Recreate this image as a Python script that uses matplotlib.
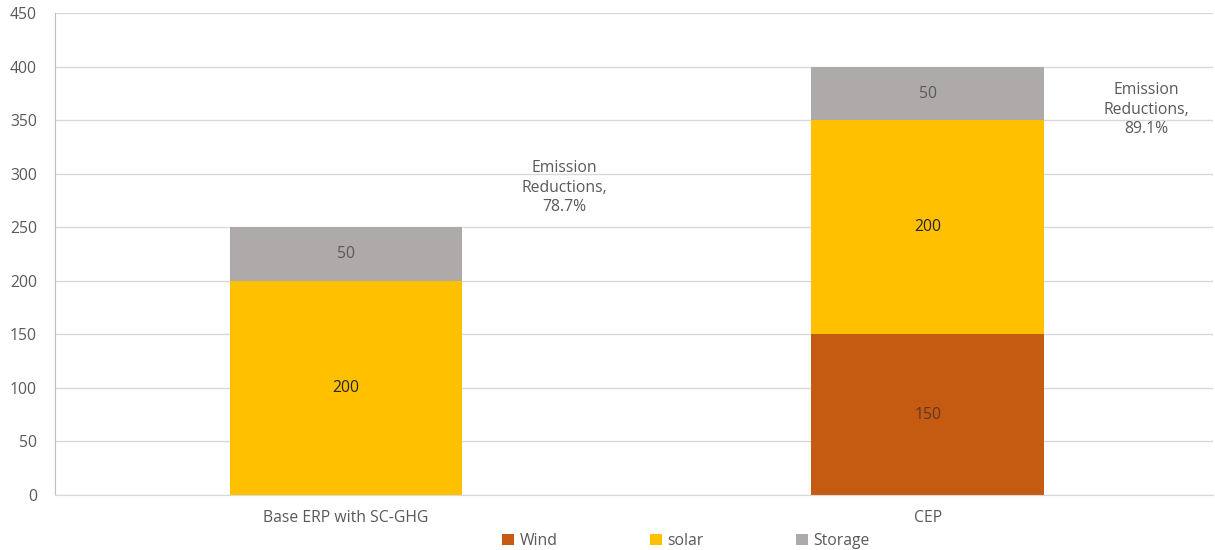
import matplotlib.pyplot as plt
import numpy as np

# ========== 数据 ==========
categories = ["Base ERP with SC-GHG", "CEP"]
wind = [0, 150]
solar = [200, 200]
storage = [50, 50]
reductions = [78.7, 89.1]

plt.rcParams["font.family"] = ["Open Sans", "DejaVu Sans"]

TEXT_GRAY = "#595959"
FS = 11.3
COLORS = {"Wind": "#C55A11", "solar": "#FFC000", "Storage": "#AEAAAA"}

fig = plt.figure(figsize=(12.15, 5.5), dpi=100)
ax = fig.add_axes([0.0453, 0.1, 0.953, 0.876])

x = np.arange(len(categories))
w = 0.4
wind = np.array(wind)
solar = np.array(solar)
storage = np.array(storage)

b_wind = ax.bar(x, wind, w, color=COLORS["Wind"], label="Wind", zorder=2)
b_solar = ax.bar(x, solar, w, bottom=wind, color=COLORS["solar"], label="solar", zorder=2)
b_stor = ax.bar(x, storage, w, bottom=wind + solar, color=COLORS["Storage"], label="Storage", zorder=2)

# 数值标签（0 不显示）
for bars, vals, col in [(b_wind, wind, "#5a3a2a"), (b_solar, solar, "#262626"), (b_stor, storage, TEXT_GRAY)]:
    labels = [str(v) if v else "" for v in vals]
    ax.bar_label(bars, labels=labels, label_type="center", fontsize=FS, color=col)

# 减排比例注释
note_y = [287, 360]
for xi, r, yy in zip(x, reductions, note_y):
    ax.text(xi + 0.375, yy, f"Emission\nReductions,\n{r}%", ha="center", va="center",
            fontsize=FS, color=TEXT_GRAY, linespacing=1.3)

ax.set_xlim(-0.5, 1.49)
ax.set_ylim(0, 450)
ax.set_yticks(np.arange(0, 451, 50))
ax.set_xticks(x)
ax.set_xticklabels(categories)
ax.tick_params(axis="both", length=0, labelsize=FS, colors=TEXT_GRAY)
ax.tick_params(axis="x", pad=11)
ax.tick_params(axis="y", pad=13)

ax.yaxis.grid(True, color="#D9D9D9", linewidth=1, zorder=0)
ax.set_axisbelow(True)
for s in ["top", "right"]:
    ax.spines[s].set_visible(False)
ax.spines["left"].set_color("#BFBFBF")
ax.spines["bottom"].set_color("#D9D9D9")

ax.legend(loc="upper center", bbox_to_anchor=(0.545, -0.05), ncol=3, frameon=False,
          fontsize=FS, labelcolor=TEXT_GRAY, handlelength=0.75, handleheight=0.75,
          handletextpad=0.35, columnspacing=5.9)

fig.savefig("out.png", dpi=100)
